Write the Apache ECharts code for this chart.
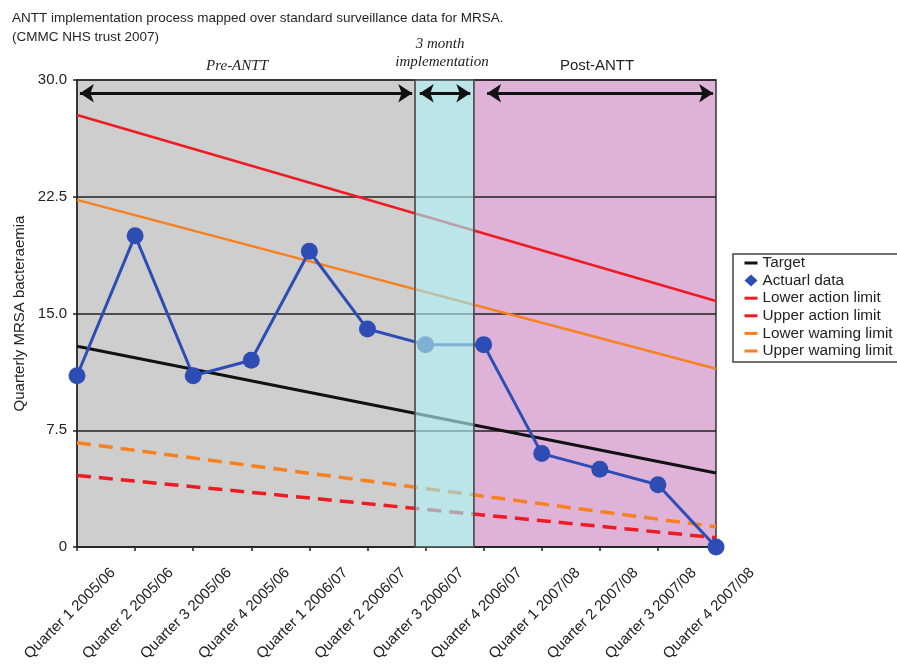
<!DOCTYPE html>
<html>
<head>
<meta charset="utf-8">
<script src="https://cdn.jsdelivr.net/npm/echarts@6/dist/echarts.min.js"></script>
<style>
html,body{margin:0;padding:0;background:#fff;}
#chart{width:897px;height:664px;}
</style>
</head>
<body>
<div id="chart"></div>
<script>
const categories = ['Quarter 1 2005/06','Quarter 2 2005/06','Quarter 3 2005/06','Quarter 4 2005/06','Quarter 1 2006/07','Quarter 2 2006/07','Quarter 3 2006/07','Quarter 4 2006/07','Quarter 1 2007/08','Quarter 2 2007/08','Quarter 3 2007/08','Quarter 4 2007/08'];
const actualData = [11, 20, 11, 12, 19, 14, 13, 13, 6, 5, 4, 0];
// straight reference lines: value at first and last quarter (category index)
const limitX = [0, 11];
const targetLine = [12.9, 4.75];
const upperActionLine = [27.75, 15.8];
const lowerActionLine = [4.6, 0.6];
const upperWarningLine = [22.3, 11.45];
const lowerWarningLine = [6.7, 1.3];
const yTicks = [0, 7.5, 15, 22.5, 30];
// phase boundaries in category-index units: pre, implementation, post
const phaseBounds = [0, 5.82, 6.83, 11];
const arrowSpans = [[0.05, 5.77], [5.9, 6.77], [7.06, 10.95]];
const arrowLevel = 29.15;

const FONT = 'Liberation Sans, Arial, sans-serif';
const pair = (xs, ys) => xs.map((x, i) => [x, ys[i]]);

const chart = echarts.init(document.getElementById('chart'), null, {renderer: 'canvas'});
const axisColor = '#222';
const hideDot = {opacity: 0};
const legendLine = {type: 'solid', width: 3};

chart.setOption({
  animation: false,
  backgroundColor: '#fff',
  title: {
    text: 'ANTT implementation process mapped over standard surveillance data for MRSA.\n(CMMC NHS trust 2007)',
    left: 12, top: 9, padding: 0,
    textStyle: {fontSize: 13.5, fontWeight: 'normal', lineHeight: 19, color: '#231f20', fontFamily: FONT}
  },
  legend: {
    orient: 'vertical', left: 733, top: 254,
    itemWidth: 13, itemHeight: 12, itemGap: 2.6,
    padding: [1.5, 6, 3.5, 10],
    borderColor: '#444', borderWidth: 1.5,
    selectedMode: false,
    textStyle: {fontSize: 15.3, color: '#222', fontFamily: FONT},
    data: [
      {name: 'Target', lineStyle: legendLine, itemStyle: hideDot},
      {name: 'Actuarl data', icon: 'diamond'},
      {name: 'Lower action limit', lineStyle: legendLine, itemStyle: hideDot},
      {name: 'Upper action limit', lineStyle: legendLine, itemStyle: hideDot},
      {name: 'Lower waming limit', lineStyle: legendLine, itemStyle: hideDot},
      {name: 'Upper waming limit', lineStyle: legendLine, itemStyle: hideDot}
    ]
  },
  grid: [
    {left: 77, top: 80, width: 639, height: 467},
    {left: 113, top: 104, width: 639, height: 467}
  ],
  xAxis: [
    {type: 'category', gridIndex: 0, data: categories, boundaryGap: false, z: 2,
     axisLine: {lineStyle: {color: axisColor, width: 1.5}},
     axisTick: {show: true, length: 4, interval: 0, lineStyle: {color: axisColor, width: 1.5}},
     axisLabel: {show: false, interval: 0}, splitLine: {show: false}},
    {type: 'value', gridIndex: 0, min: 0, max: 11, show: false},
    {type: 'category', gridIndex: 1, data: categories, boundaryGap: false,
     axisLine: {show: false}, axisTick: {show: false}, splitLine: {show: false},
     axisLabel: {rotate: 45, margin: 0, interval: 0, fontSize: 15, color: '#222', fontFamily: FONT}}
  ],
  yAxis: [
    {type: 'value', gridIndex: 0, min: yTicks[0], max: yTicks[yTicks.length - 1], interval: 7.5, z: 2,
     name: 'Quarterly MRSA bacteraemia', nameLocation: 'middle', nameGap: 50,
     nameTextStyle: {fontSize: 15, color: '#222', fontFamily: FONT},
     axisLine: {show: true, lineStyle: {color: axisColor, width: 1.5}},
     axisTick: {show: true, length: 4, lineStyle: {color: axisColor, width: 1.5}},
     axisLabel: {margin: 10, fontSize: 15, color: '#222', fontFamily: FONT,
       formatter: v => v === 0 ? '0' : v.toFixed(1)},
     splitLine: {show: true, lineStyle: {color: axisColor, width: 1.5}}},
    {type: 'value', gridIndex: 1, show: false}
  ],
  graphic: [
    {type: 'text', z: 20, style: {text: 'Pre-ANTT', x: 237, y: 66, textAlign: 'center', textVerticalAlign: 'middle', font: 'italic 15px "Liberation Serif", serif', fill: '#222'}},
    {type: 'text', z: 20, style: {text: '3 month', x: 440, y: 44, textAlign: 'center', textVerticalAlign: 'middle', font: 'italic 15px "Liberation Serif", serif', fill: '#222'}},
    {type: 'text', z: 20, style: {text: 'implementation', x: 442, y: 62, textAlign: 'center', textVerticalAlign: 'middle', font: 'italic 15px "Liberation Serif", serif', fill: '#222'}},
    {type: 'text', z: 20, style: {text: 'Post-ANTT', x: 597, y: 66, textAlign: 'center', textVerticalAlign: 'middle', font: '15px "Liberation Sans", Arial, sans-serif', fill: '#222'}}
  ],
  series: [
    {
      name: 'Upper action limit', type: 'line', xAxisIndex: 1, yAxisIndex: 0, z: 3,
      data: pair(limitX, upperActionLine), symbol: 'none',
      color: '#ed1c24', lineStyle: {color: '#ed1c24', width: 2.5},
      markArea: {
        z: 1, silent: true,
        data: [
          [{xAxis: phaseBounds[0], yAxis: 0, itemStyle: {color: '#cecece', borderColor: '#555', borderWidth: 1.5}}, {xAxis: phaseBounds[1], yAxis: 30}],
          [{xAxis: phaseBounds[2], yAxis: 0, itemStyle: {color: '#dfb3d8', borderColor: '#333', borderWidth: 1.5}}, {xAxis: phaseBounds[3], yAxis: 30}]
        ]
      }
    },
    {
      name: 'Upper waming limit', type: 'line', xAxisIndex: 1, yAxisIndex: 0, z: 3,
      data: pair(limitX, upperWarningLine), symbol: 'none',
      color: '#f7801f', lineStyle: {color: '#f7801f', width: 2.5}
    },
    {
      name: 'Lower waming limit', type: 'line', xAxisIndex: 1, yAxisIndex: 0, z: 3,
      data: pair(limitX, lowerWarningLine), symbol: 'none',
      color: '#f7801f', lineStyle: {color: '#f7801f', width: 3.5, type: [14, 8]}
    },
    {
      name: 'Lower action limit', type: 'line', xAxisIndex: 1, yAxisIndex: 0, z: 3,
      data: pair(limitX, lowerActionLine), symbol: 'none',
      color: '#ed1c24', lineStyle: {color: '#ed1c24', width: 3.5, type: [14, 8]},
      markLine: {
        z: 12, silent: true, symbol: ['arrow', 'arrow'], symbolSize: 14,
        label: {show: false},
        lineStyle: {color: '#111', width: 3, type: 'solid'},
        data: arrowSpans.map(s => [{coord: [s[0], arrowLevel]}, {coord: [s[1], arrowLevel]}])
      }
    },
    {
      name: 'Target', type: 'line', xAxisIndex: 1, yAxisIndex: 0, z: 3,
      data: pair(limitX, targetLine), symbol: 'none',
      color: '#111', lineStyle: {color: '#111', width: 3},
      markArea: {
        z: 10, silent: true,
        data: [
          [{xAxis: phaseBounds[1], yAxis: 0, itemStyle: {color: 'rgba(160,218,224,0.7)', borderColor: '#555', borderWidth: 1.5}}, {xAxis: phaseBounds[2], yAxis: 30}]
        ]
      }
    },
    {
      name: 'Actuarl data', type: 'line', xAxisIndex: 0, yAxisIndex: 0, z: 5,
      data: actualData, symbol: 'circle', symbolSize: 17,
      color: '#2d4db4', itemStyle: {color: '#2d4db4'},
      lineStyle: {color: '#2d4db4', width: 3}
    }
  ]
});
</script>
</body>
</html>
